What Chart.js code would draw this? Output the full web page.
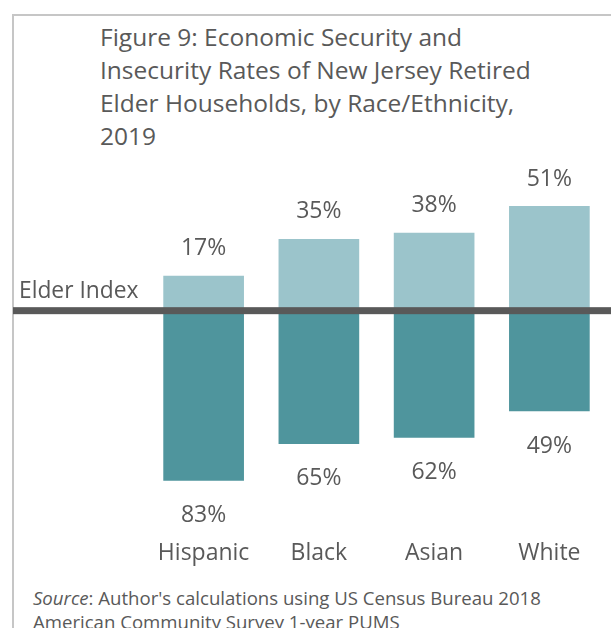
<!DOCTYPE html>
<html>
<head>
<meta charset="utf-8">
<script src="https://cdn.jsdelivr.net/npm/chart.js@4"></script>
<style>
  html, body { margin: 0; padding: 0; background: #fff; overflow: hidden; }
  body { width: 611px; height: 628px; position: relative; font-family: "Open Sans", sans-serif; color: #595959; }
  .frame { position: absolute; left: 12px; top: 14px; width: 700px; height: 700px; border-left: 2px solid #c6c6c6; border-top: 2px solid #c6c6c6; }
  .title { position: absolute; left: 100px; top: 20px; font-size: 24.5px; line-height: 33px; }
  .source { position: absolute; left: 33px; top: 586px; font-size: 18.6px; line-height: 24px; white-space: nowrap; }
  canvas { position: absolute; left: 0; top: 0; }
</style>
</head>
<body>
<div class="frame"></div>
<div class="title">Figure 9: Economic Security and<br>Insecurity Rates of New Jersey Retired<br>Elder Households, by Race/Ethnicity,<br>2019</div>
<div class="source"><i>Source</i>: Author's calculations using US Census Bureau 2018<br>American Community Survey 1-year PUMS</div>
<canvas id="chart" width="611" height="628"></canvas>
<script>
// Data
const categories = ['Hispanic', 'Black', 'Asian', 'White'];
const secureRates = [17, 35, 38, 51];
const insecureRates = [83, 65, 62, 49];

const textColor = '#595959';
const fontFamily = '"Open Sans", sans-serif';

// line at zero + value labels + category labels
const elderIndexPlugin = {
  id: 'elderIndex',
  afterDatasetsDraw(chart) {
    const ctx = chart.ctx;
    const x = chart.scales.x;
    const y = chart.scales.y;
    const zero = y.getPixelForValue(0);

    ctx.save();
    ctx.fillStyle = '#595959';
    ctx.fillRect(13, zero - 3.5, 611 - 13, 7);

    ctx.fillStyle = textColor;
    ctx.font = '22.8px ' + fontFamily;
    ctx.textAlign = 'left';
    ctx.textBaseline = 'middle';
    ctx.fillText('Elder Index', 19, zero - 19);

    ctx.font = '23px ' + fontFamily;
    ctx.textAlign = 'center';
    categories.forEach((cat, i) => {
      const cx = x.getPixelForValue(i);
      const top = y.getPixelForValue(secureRates[i]);
      const bottom = y.getPixelForValue(-insecureRates[i]);
      ctx.fillText(secureRates[i] + '%', cx, top - 27);
      ctx.fillText(insecureRates[i] + '%', cx, bottom + 35);
      ctx.fillText(cat, cx, 553);
    });
    ctx.restore();
  }
};

const ctx = document.getElementById('chart').getContext('2d');
new Chart(ctx, {
  type: 'bar',
  data: {
    labels: categories,
    datasets: [
      {
        label: 'Secure',
        data: secureRates,
        backgroundColor: '#9bc4cb',
        barPercentage: 0.7,
        categoryPercentage: 1,
      },
      {
        label: 'Insecure',
        data: insecureRates.map(v => -v),
        backgroundColor: '#4f959d',
        barPercentage: 0.7,
        categoryPercentage: 1,
      },
    ],
  },
  options: {
    responsive: false,
    animation: false,
    layout: { padding: { left: 146, right: 4, top: 161, bottom: 100 } },
    plugins: {
      legend: { display: false },
      tooltip: { enabled: false },
    },
    scales: {
      x: { stacked: true, display: false },
      y: { stacked: true, display: false, min: -106, max: 73 },
    },
  },
  plugins: [elderIndexPlugin],
});
</script>
</body>
</html>
